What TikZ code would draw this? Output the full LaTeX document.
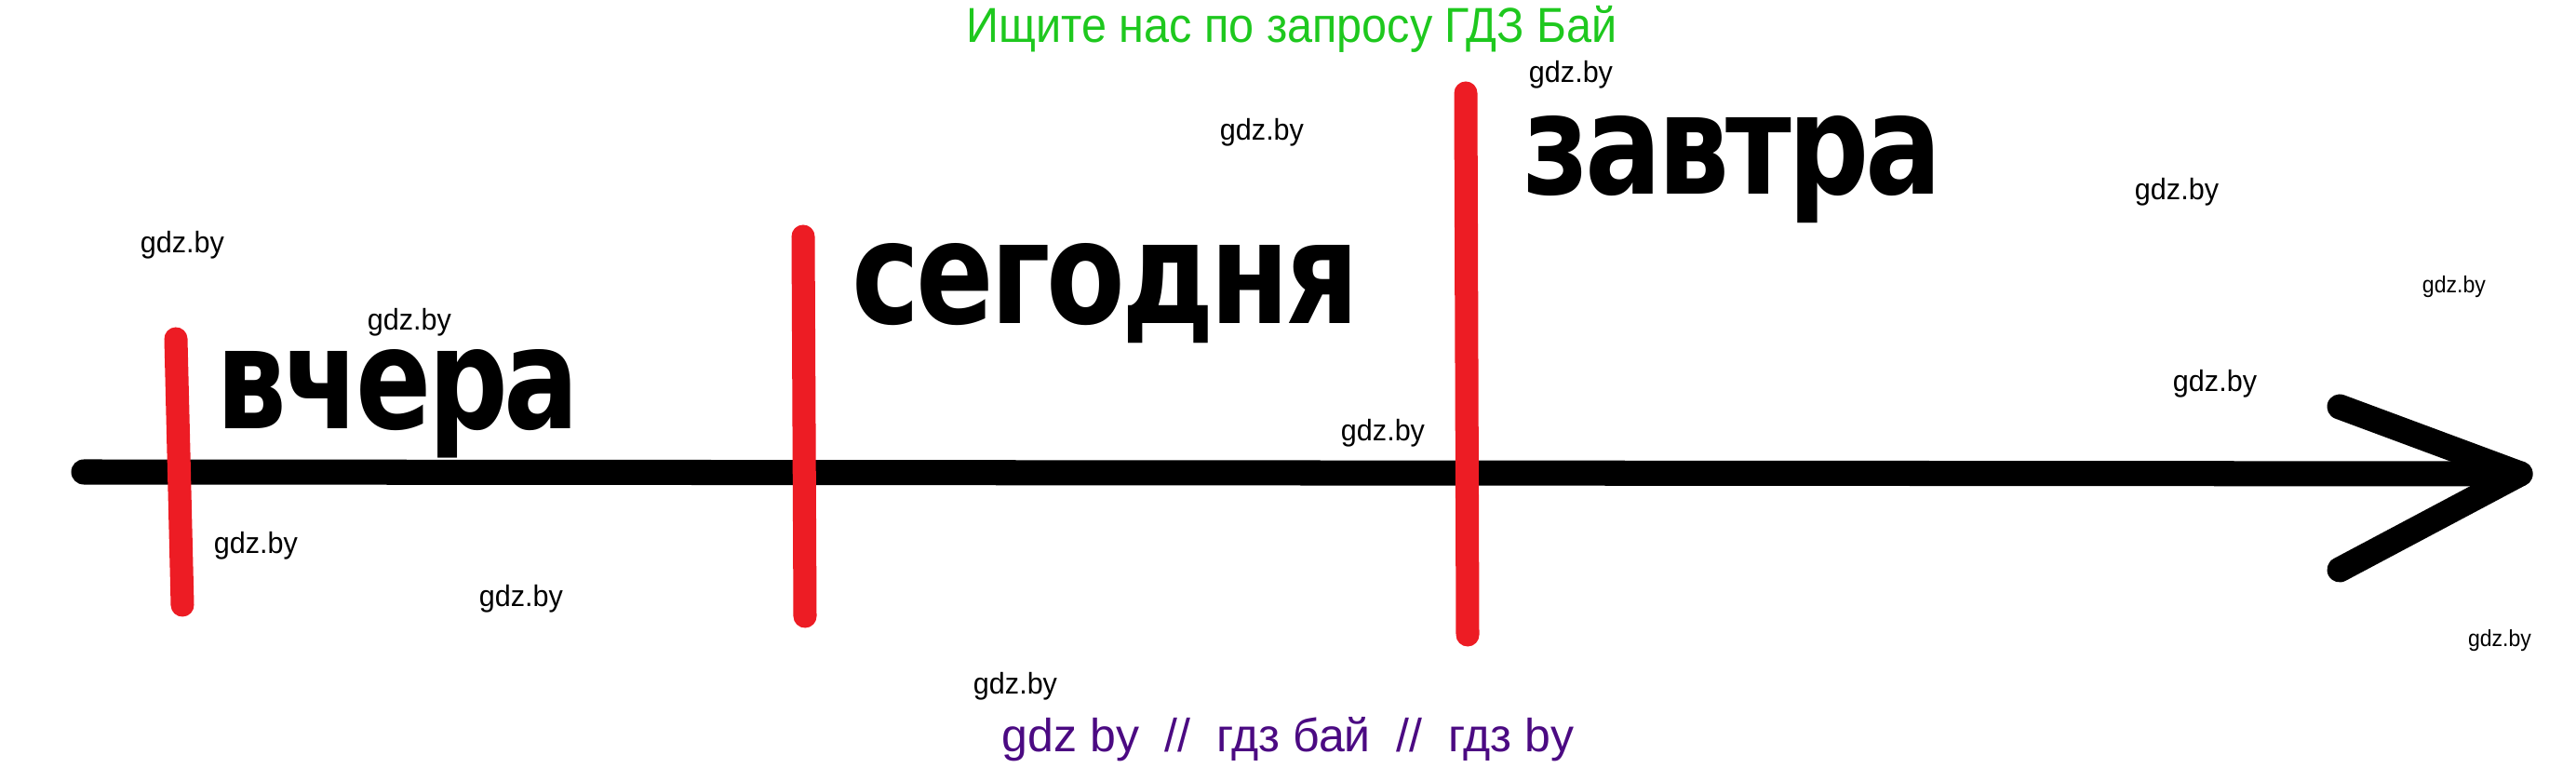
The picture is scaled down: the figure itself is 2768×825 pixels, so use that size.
\documentclass[tikz,border=0pt]{standalone}
\usepackage{graphicx}
\usepackage{fontspec}
\setmainfont{Liberation Sans}
\newfontfamily\bigfont[LetterSpace=-3]{DejaVu Sans Condensed}
\definecolor{paintred}{RGB}{237,28,36}
\definecolor{titlegreen}{RGB}{30,200,30}
\definecolor{footpurple}{RGB}{75,10,130}
\begin{document}
\begin{tikzpicture}[x=0.01cm,y=-0.01cm,
  wm/.style={anchor=base,inner sep=0pt,font=\fontsize{9.1}{10}\selectfont},
  wmsmall/.style={anchor=base,inner sep=0pt,font=\fontsize{7.1}{8}\selectfont},
  bigword/.style={anchor=base west,inner sep=0pt,font=\bigfont\bfseries\fontsize{40}{44}\selectfont},
  axisline/.style={draw=black,line width=0.27cm,line cap=round,line join=round},
  redbar/.style={draw=paintred,line width=0.25cm,line cap=round}]
\useasboundingbox (0,0) rectangle (2768,825);

% title and footer
\node[anchor=base,inner sep=0pt,text=titlegreen,font=\fontsize{15}{17}\selectfont] (title) at (1388,46)
  {\resizebox{6.99cm}{\height}{Ищите нас по запросу ГДЗ Бай}};
\node[anchor=base,inner sep=0pt,text=footpurple,font=\fontsize{14.2}{16}\selectfont] (footer) at (1384,808)
  {\resizebox{6.14cm}{\height}{gdz by\ \ //\ \ гдз бай\ \ //\ \ гдз by}};

% axis with arrow
\coordinate (axstart) at (90,507);
\coordinate (tip) at (2708,509);
\coordinate (armup) at (2514,437);
\coordinate (armdown) at (2514,612);
\draw[axisline] (axstart) -- (tip);
\draw[axisline] (armup) -- (tip) -- (armdown);

% red bars
\coordinate (b1t) at (189,364); \coordinate (b1b) at (196,650);
\coordinate (b2t) at (863,254); \coordinate (b2b) at (865,662);
\coordinate (b3t) at (1575,100); \coordinate (b3b) at (1577,682);
\draw[redbar] (b1t) -- (b1b);
\draw[redbar] (b2t) -- (b2b);
\draw[redbar] (b3t) -- (b3b);

% big words
\node[bigword] (vchera) at (232,461) {\resizebox{3.90cm}{0.85cm}{вчера}};
\node[bigword] (segodnya) at (915,348) {\resizebox{5.45cm}{0.86cm}{сегодня}};
\node[bigword] (zavtra) at (1636,209) {\resizebox{4.50cm}{0.84cm}{завтра}};

% watermarks
\node[wm] (w1) at (196,272) {\resizebox{0.90cm}{\height}{gdz.by}};
\node[wm] (w2) at (440,355) {\resizebox{0.90cm}{\height}{gdz.by}};
\node[wm] (w3) at (1356,151) {\resizebox{0.90cm}{\height}{gdz.by}};
\node[wm] (w4) at (1688,89) {\resizebox{0.90cm}{\height}{gdz.by}};
\node[wm] (w5) at (2339,215) {\resizebox{0.90cm}{\height}{gdz.by}};
\node[wmsmall] (w6) at (2637,315) {\resizebox{0.68cm}{\height}{gdz.by}};
\node[wm] (w7) at (2380,421) {\resizebox{0.90cm}{\height}{gdz.by}};
\node[wm] (w8) at (1486,474) {\resizebox{0.90cm}{\height}{gdz.by}};
\node[wm] (w9) at (275,595) {\resizebox{0.90cm}{\height}{gdz.by}};
\node[wm] (w10) at (560,652) {\resizebox{0.90cm}{\height}{gdz.by}};
\node[wm] (w11) at (1091,746) {\resizebox{0.90cm}{\height}{gdz.by}};
\node[wmsmall] (w12) at (2686,695) {\resizebox{0.68cm}{\height}{gdz.by}};
\end{tikzpicture}
\end{document}
